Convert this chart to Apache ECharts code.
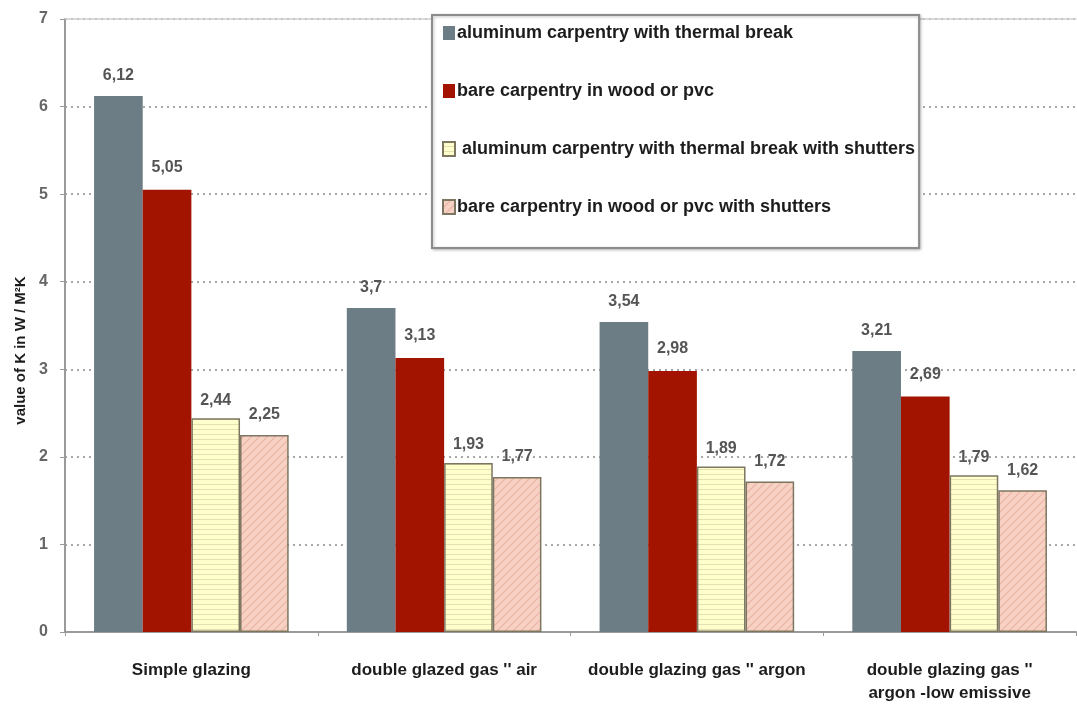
<!DOCTYPE html>
<html>
<head>
<meta charset="utf-8">
<script src="https://cdn.jsdelivr.net/npm/echarts@6/dist/echarts.min.js"></script>
<style>
  html, body { margin: 0; padding: 0; background: #fff; }
  #chart { width: 1077px; height: 705px; }
</style>
</head>
<body>
<div id="chart"></div>
<script>
// Glazing types on the category axis
const categories = [
  'Simple glazing',
  "double glazed gas '' air",
  "double glazing gas '' argon",
  "double glazing gas ''\nargon -low emissive"
];

// Series names and K values (W / m²K)
const seriesNames = [
  'aluminum carpentry with thermal break',
  'bare carpentry in wood or pvc',
  ' aluminum carpentry with thermal break with shutters',
  'bare carpentry in wood or pvc with shutters'
];
const aluThermal        = [6.12, 3.7, 3.54, 3.21];
const woodPvc           = [5.05, 3.13, 2.98, 2.69];
const aluThermalShutter = [2.44, 1.93, 1.89, 1.79];
const woodPvcShutter    = [2.25, 1.77, 1.72, 1.62];

const yTicks = [0, 1, 2, 3, 4, 5, 6, 7];

const FONT = 'Liberation Sans, Arial, sans-serif';

// Fill patterns for the shutter series
function stripePattern() {
  const c = document.createElement('canvas');
  c.width = 8; c.height = 5;
  const g = c.getContext('2d');
  g.fillStyle = '#FFFFCC';
  g.fillRect(0, 0, 8, 5);
  g.fillStyle = '#E4E0B4';
  g.fillRect(0, 4, 8, 1);
  return { image: c, repeat: 'repeat' };
}
function hatchPattern() {
  const c = document.createElement('canvas');
  c.width = 8; c.height = 8;
  const g = c.getContext('2d');
  g.fillStyle = '#F7D2C4';
  g.fillRect(0, 0, 8, 8);
  g.strokeStyle = '#EBB3A2';
  g.lineWidth = 1.2;
  g.beginPath();
  g.moveTo(-2, 10); g.lineTo(10, -2);
  g.moveTo(-2, 2); g.lineTo(2, -2);
  g.moveTo(6, 10); g.lineTo(10, 6);
  g.stroke();
  return { image: c, repeat: 'repeat' };
}

const labelStyle = {
  show: true,
  position: 'top',
  fontFamily: FONT,
  fontWeight: 'bold',
  fontSize: 16,
  color: '#555',
  formatter: p => String(p.value).replace('.', ',')
};

function barSeries(name, data, itemStyle, distance) {
  return {
    name: name,
    type: 'bar',
    data: data,
    barGap: '0%',
    barCategoryGap: '23%',
    itemStyle: itemStyle,
    label: Object.assign({}, labelStyle, { distance: distance })
  };
}

const chart = echarts.init(document.getElementById('chart'), null, { renderer: 'canvas' });

chart.setOption({
  animation: false,
  backgroundColor: '#fff',
  grid: { left: 65, right: 1, top: 19, bottom: 73, containLabel: false },
  legend: {
    orient: 'vertical',
    left: 432,
    top: 15,
    padding: [9, 4, 32, 10],
    itemWidth: 12,
    itemHeight: 14,
    itemGap: 40,
    icon: 'rect',
    backgroundColor: '#fff',
    borderColor: '#8c8c8c',
    borderWidth: 2,
    shadowColor: 'rgba(0,0,0,0.25)',
    shadowBlur: 3,
    shadowOffsetX: 1,
    shadowOffsetY: 1,
    textStyle: {
      fontFamily: FONT,
      fontWeight: 'bold',
      fontSize: 18,
      color: '#1c1c1c',
      lineHeight: 14,
      padding: [0, 0, 0, -3]
    },
    data: seriesNames
  },
  xAxis: [
    {
      type: 'category',
      data: categories,
      axisLine: { lineStyle: { color: '#9a9a9a', width: 2 } },
      axisTick: { show: true, length: 4, lineStyle: { color: '#9a9a9a' } },
      axisLabel: {
        margin: 27,
        fontFamily: FONT,
        fontWeight: 'bold',
        fontSize: 17,
        lineHeight: 23,
        color: '#1c1c1c',
        interval: 0
      }
    },
    {
      type: 'category',
      position: 'top',
      data: categories,
      axisLine: { show: true, lineStyle: { color: '#cfcfcf', width: 1.5 } },
      axisTick: { show: false },
      axisLabel: { show: false }
    }
  ],
  yAxis: {
    type: 'value',
    min: yTicks[0],
    max: yTicks[yTicks.length - 1],
    interval: 1,
    name: 'value of K in W / M²K',
    nameLocation: 'middle',
    nameGap: 36,
    nameTextStyle: {
      fontFamily: FONT,
      fontWeight: 'bold',
      fontSize: 15,
      color: '#1c1c1c',
      padding: [0, 50, 0, 0]
    },
    axisLine: { show: true, lineStyle: { color: '#9a9a9a', width: 2 } },
    axisTick: { show: true, length: 5, lineStyle: { color: '#9a9a9a' } },
    axisLabel: {
      margin: 17,
      fontFamily: FONT,
      fontWeight: 'bold',
      fontSize: 16,
      color: '#666'
    },
    splitLine: { show: true, lineStyle: { color: '#8a8a8a', type: [2, 4], width: 1.5 } }
  },
  series: [
    barSeries(seriesNames[0], aluThermal, { color: '#6C7D85' }, 12),
    barSeries(seriesNames[1], woodPvc, { color: '#A31400' }, 14),
    barSeries(seriesNames[2], aluThermalShutter, {
      color: stripePattern(), borderColor: '#7d7660', borderWidth: 1.5
    }, 10),
    barSeries(seriesNames[3], woodPvcShutter, {
      color: hatchPattern(), borderColor: '#7d7660', borderWidth: 1.5
    }, 12)
  ]
});
</script>
</body>
</html>
